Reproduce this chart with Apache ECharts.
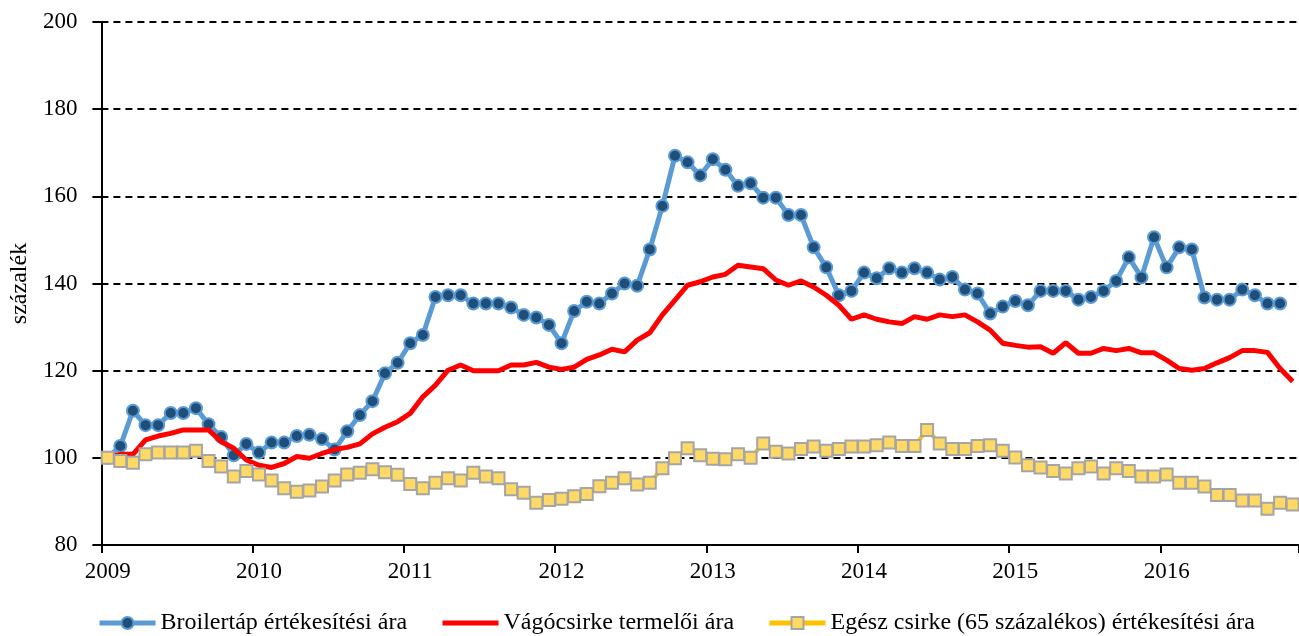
<!DOCTYPE html>
<html>
<head>
<meta charset="utf-8">
<script src="https://cdn.jsdelivr.net/npm/echarts@6/dist/echarts.min.js"></script>
<style>
html,body{margin:0;padding:0;background:#fff;}
#c{width:1299px;height:636px;}
</style>
</head>
<body>
<div id="c"></div>
<script>
// Years on the axis (monthly data Jan 2009 – Nov 2016)
const years = ['2009','2010','2011','2012','2013','2014','2015','2016'];
const monthsInLastYear = 11;

const seriesNames = [
  'Broilertáp értékesítési ára',
  'Vágócsirke termelői ára',
  'Egész csirke (65 százalékos) értékesítési ára'
];

const broiler = [
  100, 102.7, 110.8, 107.5, 107.5, 110.3, 110.3, 111.4, 107.7, 104.8, 100.6, 103.2,
  101.2, 103.5, 103.5, 105.0, 105.3, 104.3, 101.9, 106.1, 109.8, 113.0, 119.4, 121.8,
  126.3, 128.2, 136.9, 137.3, 137.3, 135.4, 135.4, 135.4, 134.5, 132.8, 132.2, 130.5,
  126.3, 133.7, 135.8, 135.4, 137.7, 140.0, 139.5, 147.8, 157.8, 169.3, 167.8, 164.8,
  168.5, 166.1, 162.4, 163.0, 159.7, 159.7, 155.7, 155.7, 148.3, 143.7, 137.3, 138.3,
  142.5, 141.2, 143.5, 142.5, 143.5, 142.5, 140.9, 141.5, 138.6, 137.7, 133.1, 134.7,
  136.0, 135.0, 138.3, 138.3, 138.3, 136.3, 136.9, 138.3, 140.6, 146.0, 141.4, 150.6,
  143.7, 148.3, 147.8, 136.8, 136.3, 136.3, 138.6, 137.3, 135.4, 135.4, null
];

const vagocsirke = [
  100, 100.8, 100.8, 104.1, 105.0, 105.6, 106.4, 106.4, 106.4, 103.7, 102.2, 99.5,
  98.3, 97.8, 98.7, 100.3, 99.9, 101.0, 101.9, 102.4, 103.2, 105.5, 107.0, 108.3,
  110.2, 114.0, 116.7, 120.1, 121.3, 120.0, 120.0, 120.0, 121.3, 121.3, 121.9, 120.8,
  120.3, 120.8, 122.6, 123.6, 124.9, 124.3, 127.0, 128.7, 132.8, 136.2, 139.6, 140.4,
  141.5, 142.1, 144.2, 143.8, 143.4, 140.8, 139.6, 140.6, 139.2, 137.3, 135.0, 131.8,
  132.8, 131.8, 131.2, 130.8, 132.4, 131.8, 132.8, 132.4, 132.8, 131.2, 129.3, 126.3,
  125.8, 125.4, 125.5, 124.0, 126.4, 124.0, 124.0, 125.1, 124.6, 125.1, 124.1, 124.1,
  122.4, 120.5, 120.1, 120.5, 121.8, 123.0, 124.6, 124.6, 124.2, 120.5, 117.5
];

const egesz = [
  100.0, 99.3, 98.9, 100.8, 101.2, 101.2, 101.2, 101.6, 99.3, 98.0, 95.7, 97.0,
  96.2, 94.8, 93.0, 92.2, 92.5, 93.4, 94.8, 96.2, 96.6, 97.4, 96.7, 96.1,
  94.0, 93.0, 94.3, 95.3, 94.8, 96.6, 95.7, 95.3, 92.8, 92.0, 89.7, 90.3,
  90.6, 91.2, 91.7, 93.5, 94.3, 95.3, 93.9, 94.3, 97.6, 99.9, 102.2, 100.6,
  99.8, 99.7, 100.8, 100.0, 103.3, 101.4, 101.0, 102.0, 102.6, 101.6, 102.0, 102.6,
  102.6, 102.9, 103.5, 102.7, 102.7, 106.4, 103.3, 102.0, 102.0, 102.7, 102.9, 101.6,
  100.1, 98.3, 97.8, 97.0, 96.4, 97.6, 98.0, 96.4, 97.6, 97.0, 95.7, 95.7,
  96.2, 94.3, 94.3, 93.4, 91.5, 91.5, 90.2, 90.2, 88.3, 89.7, 89.3
];

const yTicks = {min: 80, max: 200, step: 20};
const yTitle = 'százalék';

// Build monthly categories from the year list
const categories = [];
years.forEach((y, i) => {
  const n = (i === years.length - 1) ? monthsInLastYear : 12;
  for (let m = 1; m <= n; m++) categories.push(y + '-' + String(m).padStart(2, '0'));
});

const FONT = 'Liberation Serif, "Times New Roman", serif';

const chart = echarts.init(document.getElementById('c'), null, {renderer: 'canvas'});

const legendBase = {
  orient: 'horizontal',
  top: 606,
  itemWidth: 56,
  itemHeight: 15,
  itemGap: 30,
  textStyle: {fontFamily: FONT, fontSize: 24, color: '#000'},
  selectedMode: false
};

chart.setOption({
  animation: false,
  backgroundColor: '#fff',
  grid: {left: 99, right: 0, top: 22, bottom: 91, containLabel: false},
  legend: [
    Object.assign({}, legendBase, {left: 92, data: [seriesNames[0]], lineStyle: {width: 5}}),
    Object.assign({}, legendBase, {left: 435, data: [seriesNames[1]], lineStyle: {width: 5}, itemStyle: {opacity: 0}}),
    Object.assign({}, legendBase, {left: 762, data: [seriesNames[2]], lineStyle: {width: 5}})
  ],
  xAxis: {
    type: 'category',
    data: categories,
    boundaryGap: true,
    axisLine: {show: true, lineStyle: {color: '#000', width: 2}},
    axisTick: {show: true, interval: 11, length: 8, lineStyle: {color: '#000', width: 2}},
    axisLabel: {
      interval: 11,
      formatter: v => v.slice(0, 4),
      fontFamily: FONT, fontSize: 23, color: '#000', margin: 15
    },
    splitLine: {show: false}
  },
  yAxis: {
    type: 'value',
    min: yTicks.min, max: yTicks.max, interval: yTicks.step,
    name: yTitle,
    nameLocation: 'middle',
    nameGap: 67,
    nameRotate: 90,
    nameTextStyle: {fontFamily: FONT, fontSize: 24, color: '#000'},
    axisLine: {show: true, lineStyle: {color: '#000', width: 2}},
    axisTick: {show: true, length: 9, lineStyle: {color: '#000', width: 2}},
    axisLabel: {fontFamily: FONT, fontSize: 23, color: '#000', margin: 24},
    splitLine: {show: true, lineStyle: {color: '#000', width: 2, type: [7, 5]}}
  },
  series: [
    {
      name: seriesNames[0],
      type: 'line',
      data: broiler,
      symbol: 'circle',
      symbolSize: 12,
      showAllSymbol: true,
      lineStyle: {color: '#5B9BD5', width: 5},
      itemStyle: {color: '#1F4E79', borderColor: '#5B9BD5', borderWidth: 2},
      z: 2
    },
    {
      name: seriesNames[1],
      type: 'line',
      data: vagocsirke,
      symbol: 'none',
      lineStyle: {color: '#FF0000', width: 5},
      itemStyle: {color: '#FF0000'},
      z: 3
    },
    {
      name: seriesNames[2],
      type: 'line',
      data: egesz,
      symbol: 'rect',
      symbolSize: 12,
      showAllSymbol: true,
      lineStyle: {color: '#FFC000', width: 4},
      itemStyle: {color: '#FFD966', borderColor: '#A5A5A5', borderWidth: 2},
      z: 4
    }
  ]
});
</script>
</body>
</html>
